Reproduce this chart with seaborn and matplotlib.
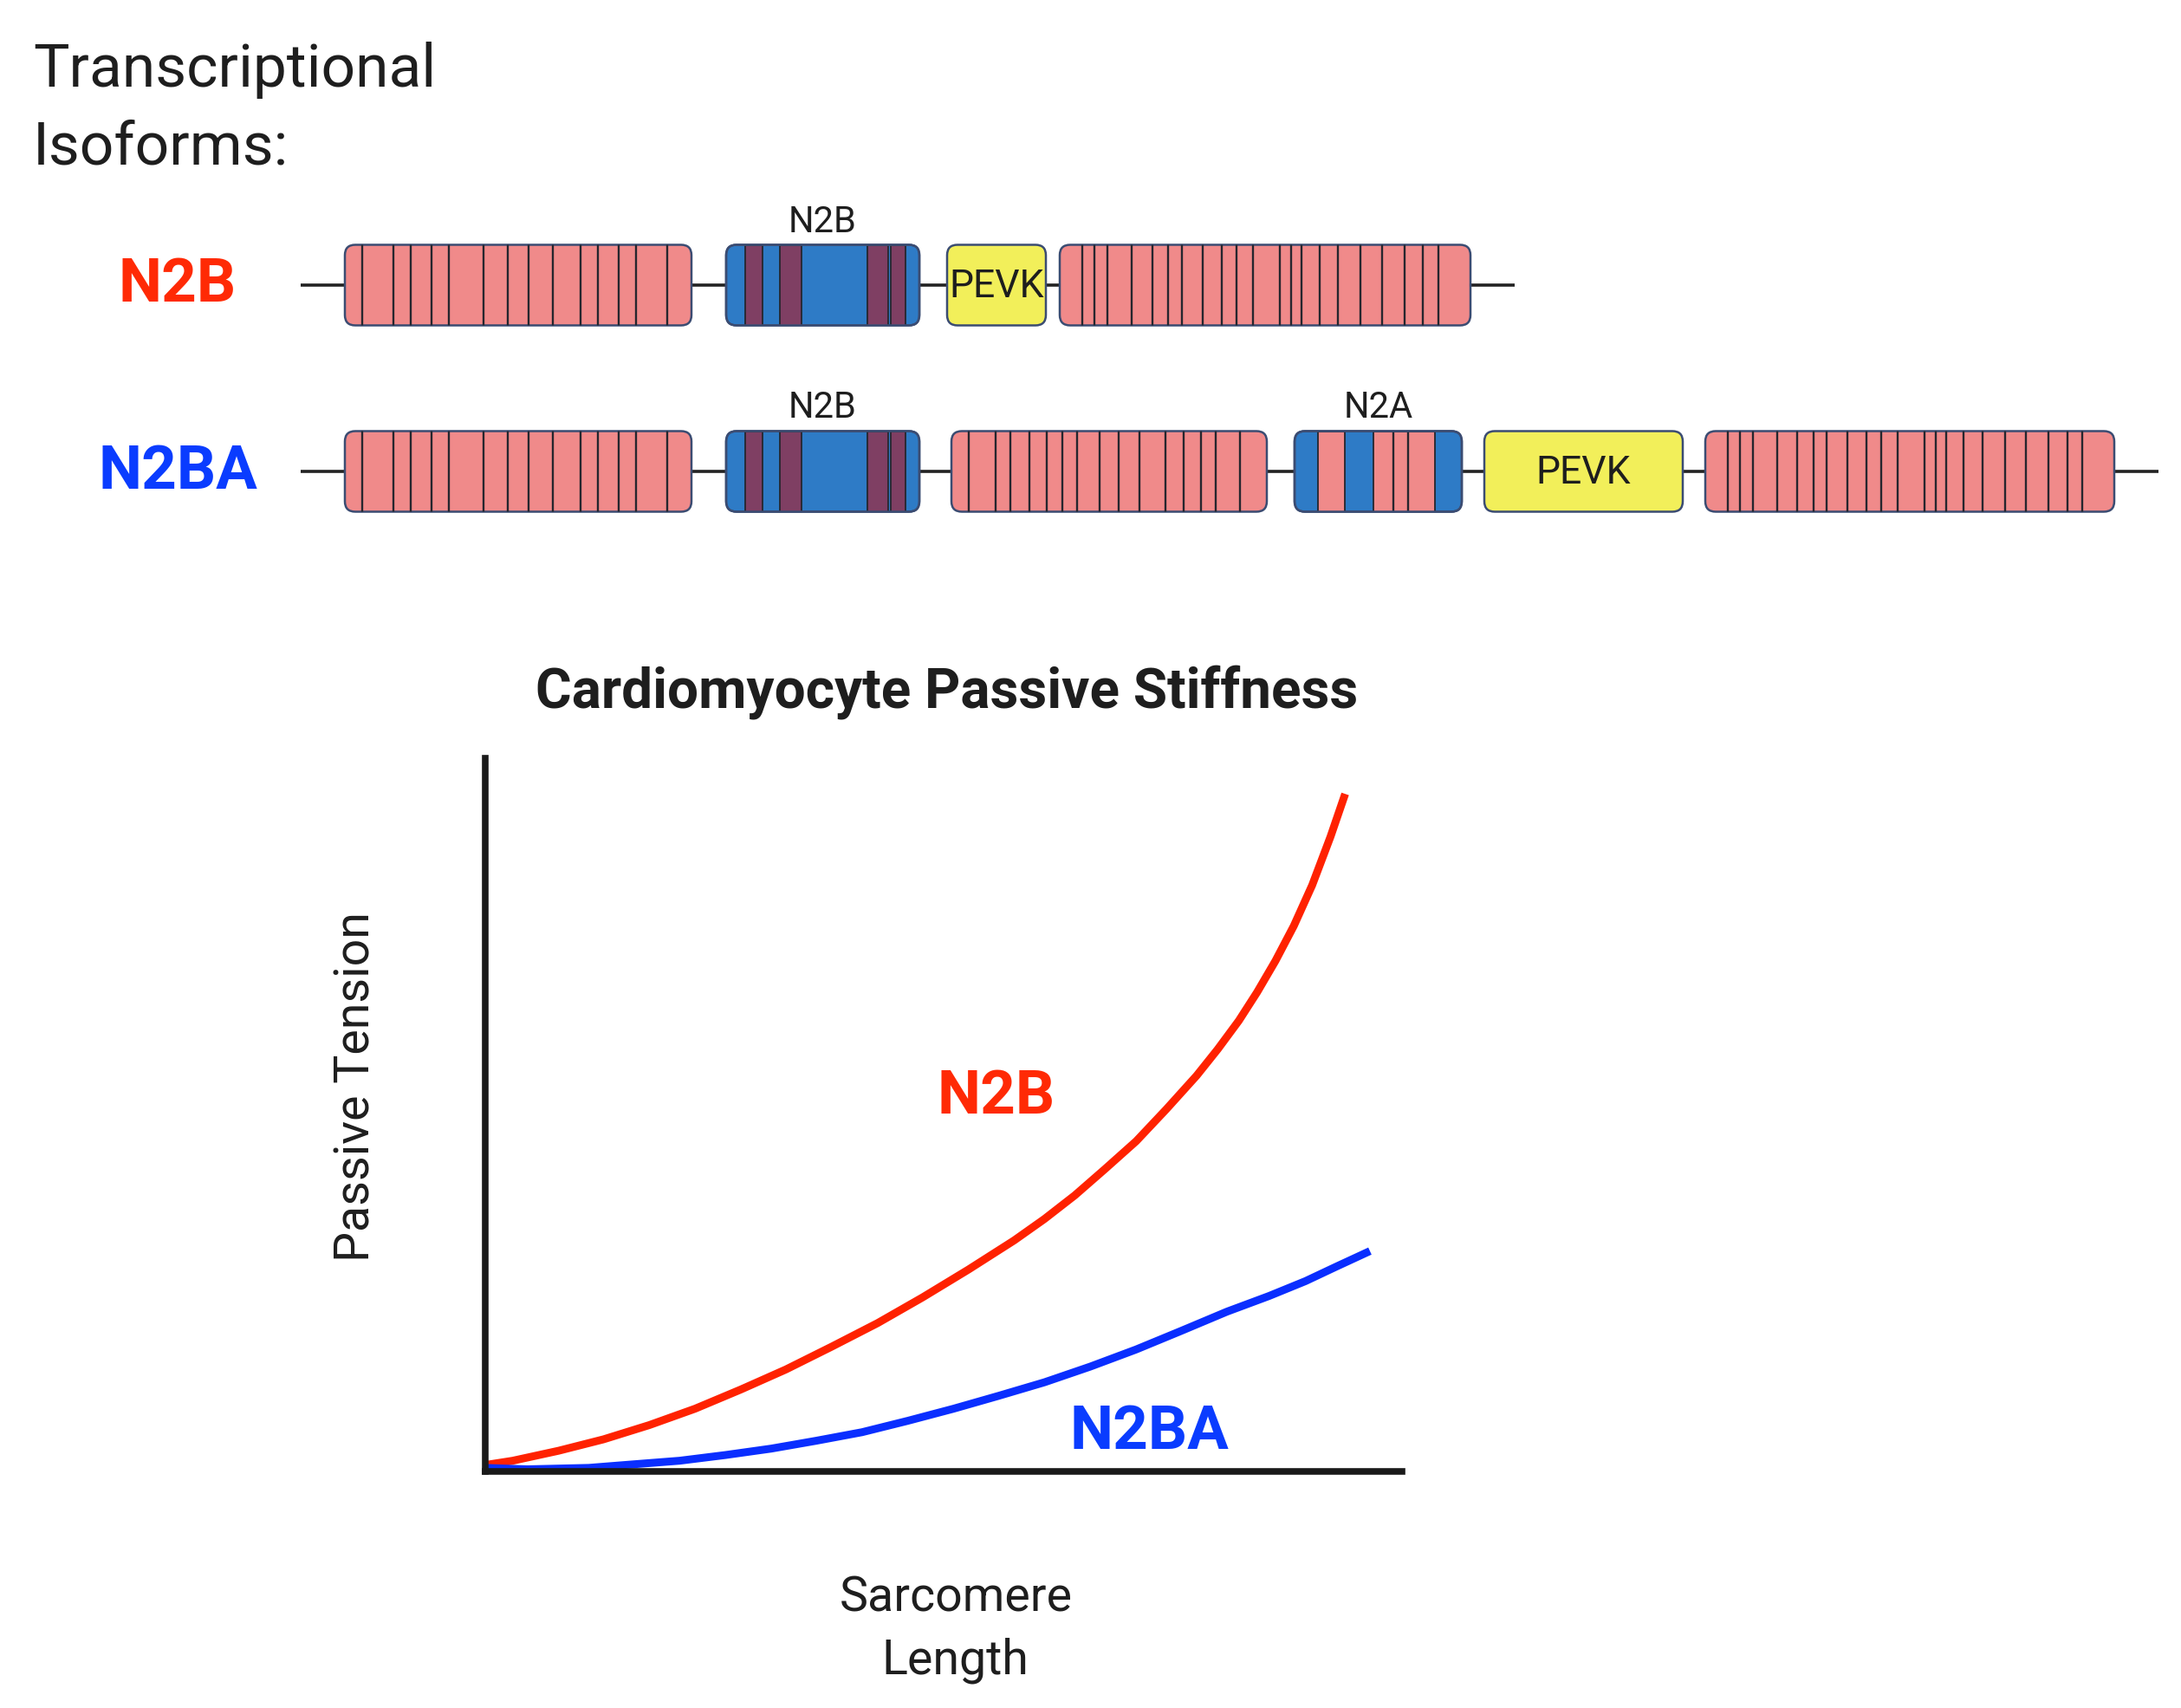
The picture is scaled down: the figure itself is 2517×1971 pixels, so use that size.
import matplotlib
matplotlib.use("Agg")
import numpy as np
import pandas as pd
import matplotlib.pyplot as plt
import seaborn as sns
from matplotlib.patches import FancyBboxPatch, Rectangle

# ---- isoform schematic data ----
isoforms = ["N2B", "N2BA"]
isoform_colors = ["#ff2a05", "#0a3cff"]
row_y = [329, 544]
backbone = [(347, 1748), (347, 2491)]

# stripe positions inside Ig segments (fraction of segment width)
ig_proximal = [0.05, 0.14, 0.19, 0.25, 0.30, 0.40, 0.47, 0.53, 0.60, 0.68, 0.73, 0.79, 0.84, 0.93]
ig_middle = [0.055, 0.139, 0.188, 0.247, 0.302, 0.353, 0.397, 0.470, 0.530, 0.596, 0.678, 0.735, 0.790, 0.839, 0.916]
ig_distal = [0.055, 0.084, 0.117, 0.175, 0.225, 0.264, 0.297, 0.348, 0.394, 0.430, 0.471, 0.536,
             0.563, 0.589, 0.632, 0.678, 0.733, 0.784, 0.839, 0.885, 0.921]
n2b_unique = [(0.10, 0.19), (0.28, 0.39), (0.73, 0.84), (0.85, 0.93)]
n2a_pink = [(0.14, 0.30), (0.47, 0.84)]
n2a_lines = [0.59, 0.68]

# (kind, start, end, stripes)
n2b_domains = [("ig", 398, 798, ig_proximal), ("N2B", 838, 1061, n2b_unique),
               ("PEVK", 1093, 1207, []), ("ig", 1223, 1697, ig_distal)]
n2ba_domains = [("ig", 398, 798, ig_proximal), ("N2B", 838, 1061, n2b_unique),
                ("ig", 1098, 1462, ig_middle), ("N2A", 1494, 1687, n2a_pink),
                ("PEVK", 1713, 1942, []), ("ig", 1968, 2440, ig_distal)]
domains = [n2b_domains, n2ba_domains]

# ---- passive tension curves (axis fractions) ----
sl_n2b = [0.0, 0.030, 0.080, 0.129, 0.179, 0.229, 0.279, 0.328, 0.378, 0.428, 0.477, 0.527, 0.577,
          0.610, 0.643, 0.676, 0.710, 0.743, 0.776, 0.799, 0.822, 0.842, 0.862, 0.882, 0.902, 0.922, 0.938]
pt_n2b = [0.009, 0.015, 0.029, 0.045, 0.065, 0.088, 0.115, 0.143, 0.175, 0.208, 0.244, 0.283, 0.324,
          0.354, 0.387, 0.424, 0.463, 0.508, 0.555, 0.592, 0.632, 0.672, 0.716, 0.765, 0.822, 0.890, 0.950]
sl_n2ba = [0.0, 0.046, 0.113, 0.162, 0.212, 0.262, 0.312, 0.361, 0.411, 0.461, 0.511, 0.560, 0.610,
           0.660, 0.710, 0.759, 0.809, 0.855, 0.895, 0.928, 0.965]
pt_n2ba = [0.005, 0.003, 0.005, 0.010, 0.015, 0.023, 0.032, 0.043, 0.055, 0.071, 0.088, 0.106, 0.125,
           0.147, 0.171, 0.197, 0.224, 0.246, 0.267, 0.287, 0.309]

curves = pd.concat([
    pd.DataFrame({"length": sl_n2b, "tension": pt_n2b, "isoform": "N2B"}),
    pd.DataFrame({"length": sl_n2ba, "tension": pt_n2ba, "isoform": "N2BA"}),
])

sns.set_theme(style="white")
plt.rcParams["font.family"] = ["Roboto", "DejaVu Sans"]

W, H = 2517, 1971
fig = plt.figure(figsize=(W / 100, H / 100), dpi=100)

# overlay axes in pixel units for the schematic
ax0 = fig.add_axes([0, 0, 1, 1])
ax0.set_xlim(0, W)
ax0.set_ylim(H, 0)
ax0.axis("off")

pink = "#f08a8a"
blue = "#2e7bc6"
purple = "#7f3f63"
yellow = "#f2ef5a"
edge = "#3b4c72"
stripe_ec = "#26262e"
box_h = 93

ax0.text(38, 100, "Transcriptional", fontsize=50, color="#1e1e1e", va="baseline")
ax0.text(38, 189, "Isoforms:", fontsize=50, color="#1e1e1e", va="baseline")

for name, col, yc, (b0, b1), doms in zip(isoforms, isoform_colors, row_y, backbone, domains):
    ax0.text(205, yc, name, fontsize=51, fontweight="bold", color=col, ha="center", va="center")
    ax0.plot([b0, b1], [yc, yc], color="#222222", lw=2.6, zorder=1, solid_capstyle="butt")
    for kind, x0, x1, stripes in doms:
        w = x1 - x0
        face = {"ig": pink, "N2B": blue, "N2A": blue, "PEVK": yellow}[kind]
        box = FancyBboxPatch((x0, yc - box_h / 2), w, box_h,
                             boxstyle="round,pad=0,rounding_size=12",
                             fc=face, ec=edge, lw=1.8, zorder=3)
        ax0.add_patch(box)
        if kind == "ig":
            for f in stripes:
                ln, = ax0.plot([x0 + f * w] * 2, [yc - box_h / 2, yc + box_h / 2],
                               color=stripe_ec, lw=1.7, zorder=4)
                ln.set_clip_path(box)
        elif kind in ("N2B", "N2A"):
            fc = purple if kind == "N2B" else pink
            for s0, s1 in stripes:
                r = Rectangle((x0 + s0 * w, yc - box_h / 2), (s1 - s0) * w, box_h,
                              fc=fc, ec=stripe_ec, lw=1.3, zorder=4)
                ax0.add_patch(r)
                r.set_clip_path(box)
            if kind == "N2A":
                for f in n2a_lines:
                    ln, = ax0.plot([x0 + f * w] * 2, [yc - box_h / 2, yc + box_h / 2],
                                   color=stripe_ec, lw=1.7, zorder=5)
                    ln.set_clip_path(box)
            ax0.text(x0 + w / 2, yc - 73, kind, fontsize=30, color="#1e1e1e",
                     ha="center", va="center")
            box2 = FancyBboxPatch((x0, yc - box_h / 2), w, box_h,
                                  boxstyle="round,pad=0,rounding_size=12",
                                  fc="none", ec=edge, lw=1.8, zorder=6)
            ax0.add_patch(box2)
        else:
            ax0.text(x0 + w / 2, yc + 2, "PEVK", fontsize=32, color="#1e1e1e",
                     ha="center", va="center", zorder=7)

# ---- passive stiffness chart ----
ax = fig.add_axes([560 / W, 1 - 1698 / H, (1618 - 560) / W, (1698 - 875) / H])
ax.patch.set_alpha(0)
sns.lineplot(data=curves, x="length", y="tension", hue="isoform",
             palette=dict(zip(isoforms, ["#ff2200", "#0a2eff"])),
             linewidth=6.5, legend=False, ax=ax, clip_on=False,
             solid_capstyle="butt", solid_joinstyle="round")
ax.set_xlim(0, 1)
ax.set_ylim(0, 1)
ax.set_xticks([])
ax.set_yticks([])
for s in ["top", "right"]:
    ax.spines[s].set_visible(False)
for s in ["left", "bottom"]:
    ax.spines[s].set_linewidth(5.5)
    ax.spines[s].set_color("#1a1a1a")
    ax.spines[s].set_zorder(5)

ax.text(0.503, 1.093, "Cardiomyocyte Passive Stiffness", transform=ax.transAxes,
        fontsize=46, fontweight="bold", color="#1e1e1e", ha="center", va="center")
ax.set_ylabel("Passive Tension", fontsize=40, color="#1e1e1e", va="center")
ax.yaxis.set_label_coords(-0.141, 0.539)
ax.set_xlabel("Sarcomere\nLength", fontsize=40, color="#1e1e1e", va="center", linespacing=1.45)
ax.xaxis.set_label_coords(0.513, -0.221)

ax.text(0.557, 0.526, "N2B", fontsize=51, fontweight="bold", color="#ff2a05",
        ha="center", va="center")
ax.text(0.724, 0.055, "N2BA", fontsize=51, fontweight="bold", color="#0a3cff",
        ha="center", va="center")

fig.savefig("out.png", dpi=100, facecolor="white")
